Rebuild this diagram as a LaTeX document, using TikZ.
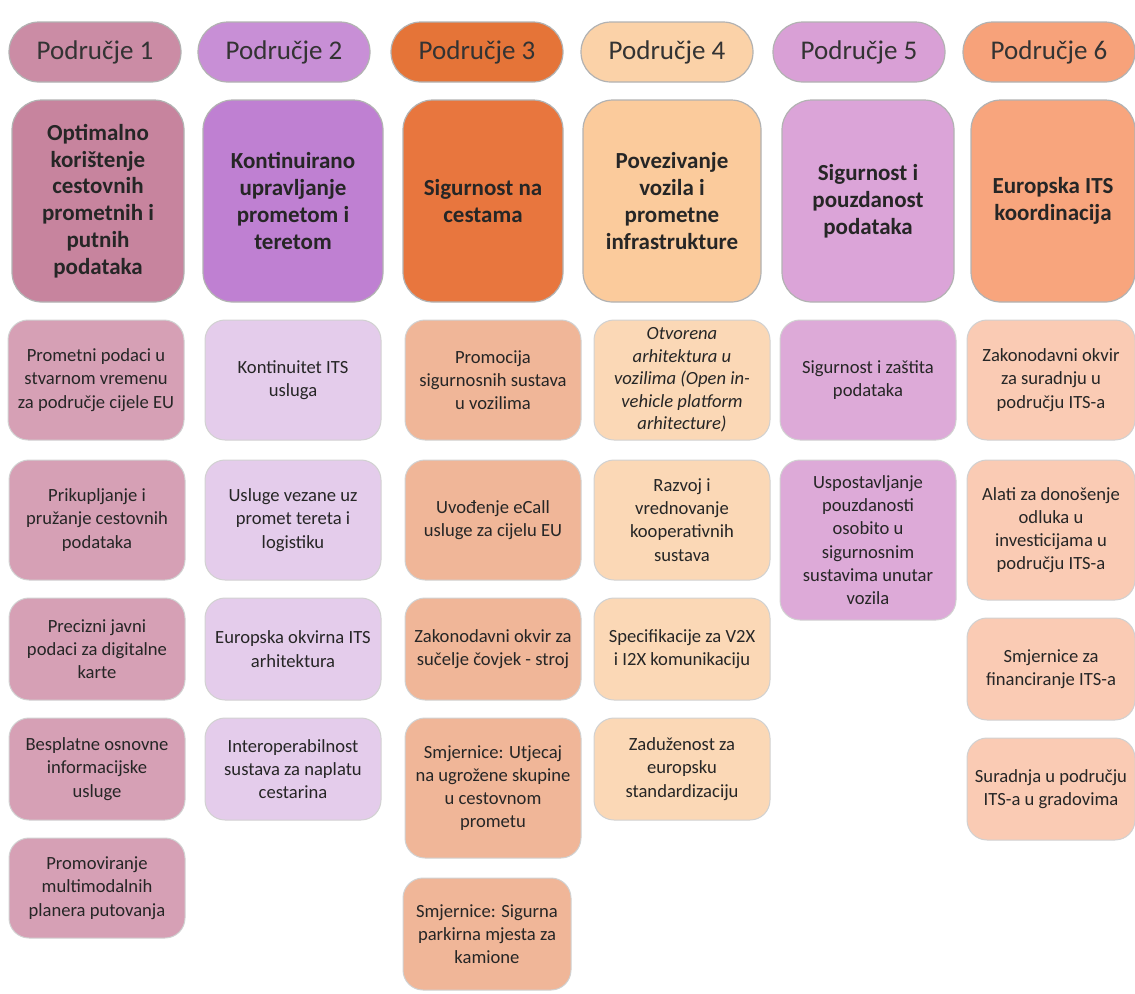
\documentclass[tikz,border=0pt]{standalone}
\usepackage{fontspec}
\setmainfont{Carlito}
\definecolor{roseH}{RGB}{203,140,165}
\definecolor{roseT}{RGB}{199,132,158}
\definecolor{roseI}{RGB}{214,160,181}
\definecolor{lilacH}{RGB}{200,143,214}
\definecolor{lilacT}{RGB}{191,128,210}
\definecolor{lilacI}{RGB}{228,204,235}
\definecolor{orangeH}{RGB}{229,116,56}
\definecolor{orangeT}{RGB}{232,118,62}
\definecolor{orangeI}{RGB}{240,182,152}
\definecolor{peachH}{RGB}{251,210,168}
\definecolor{peachT}{RGB}{251,203,156}
\definecolor{peachI}{RGB}{251,216,182}
\definecolor{mauveH}{RGB}{217,160,214}
\definecolor{mauveT}{RGB}{219,164,216}
\definecolor{mauveI}{RGB}{221,170,216}
\definecolor{salmonH}{RGB}{247,162,122}
\definecolor{salmonT}{RGB}{248,165,125}
\definecolor{salmonI}{RGB}{250,203,180}
\tikzset{
	pill/.style={draw=black!30, line width=0.6pt, rounded corners=15pt, minimum width=86pt, minimum height=30pt, text=black!80, font=\fontsize{13.5}{16}\selectfont},
	title/.style={draw=black!30, line width=0.6pt, rounded corners=15pt, minimum width=88pt, minimum height=101pt, align=center, text=black!85, font=\bfseries\fontsize{11.5}{13.4}\selectfont},
	item/.style={draw=black!18, line width=0.5pt, rounded corners=10pt, minimum width=88pt, minimum height=60pt, inner sep=2pt, align=center, text=black!85, font=\fontsize{9.3}{11.6}\selectfont}
}
\begin{document}
\begin{tikzpicture}[x=0.5pt, y=-0.5pt]
		\useasboundingbox (0,0) rectangle (1135,993);
		\node[pill, fill=roseH] (H1) at (95,52) {Područje 1};
		\node[pill, fill=lilacH] (H2) at (284,52) {Područje 2};
		\node[pill, fill=orangeH] (H3) at (477,52) {Područje 3};
		\node[pill, fill=peachH] (H4) at (667,52) {Područje 4};
		\node[pill, fill=mauveH] (H5) at (859,52) {Područje 5};
		\node[pill, fill=salmonH] (H6) at (1049,52) {Područje 6};
		\node[title, fill=roseT, minimum width=86pt] (T1) at (98,201) {Optimalno\\korištenje\\cestovnih\\prometnih i\\putnih\\podataka};
		\node[title, fill=lilacT, minimum width=90pt] (T2) at (293,201) {Kontinuirano\\upravljanje\\prometom i\\teretom};
		\node[title, fill=orangeT, minimum width=80pt] (T3) at (483,201) {Sigurnost na\\cestama};
		\node[title, fill=peachT, minimum width=89pt] (T4) at (672,201) {Povezivanje\\vozila i\\prometne\\infrastrukture};
		\node[title, fill=mauveT, minimum width=86pt] (T5) at (868,201) {Sigurnost i\\pouzdanost\\podataka};
		\node[title, fill=salmonT, minimum width=82pt] (T6) at (1053,201) {Europska ITS\\koordinacija};
		\node[item, fill=roseI] (A1) at (96,380) {Prometni podaci u\\stvarnom vremenu\\za područje cijele EU};
		\node[item, fill=roseI] (A2) at (97,520) {Prikupljanje i\\pružanje cestovnih\\podataka};
		\node[item, fill=roseI, minimum height=51pt] (A3) at (97,649) {Precizni javni\\podaci za digitalne\\karte};
		\node[item, fill=roseI, minimum height=51pt] (A4) at (97,769) {Besplatne osnovne\\informacijske\\usluge};
		\node[item, fill=roseI, minimum height=50pt] (A5) at (97,888) {Promoviranje\\multimodalnih\\planera putovanja};
		\node[item, fill=lilacI] (B1) at (293,380) {Kontinuitet ITS\\usluga};
		\node[item, fill=lilacI] (B2) at (293,520) {Usluge vezane uz\\promet tereta i\\logistiku};
		\node[item, fill=lilacI, minimum height=51pt] (B3) at (293,649) {Europska okvirna ITS\\arhitektura};
		\node[item, fill=lilacI, minimum height=51pt] (B4) at (293,769) {Interoperabilnost\\sustava za naplatu\\cestarina};
		\node[item, fill=orangeI] (C1) at (493,380) {Promocija\\sigurnosnih sustava\\u vozilima};
		\node[item, fill=orangeI] (C2) at (493,520) {Uvođenje eCall\\usluge za cijelu EU};
		\node[item, fill=orangeI, minimum height=51pt] (C3) at (493,649) {Zakonodavni okvir za\\sučelje čovjek - stroj};
		\node[item, fill=orangeI, minimum height=70pt] (C4) at (493,788) {Smjernice: Utjecaj\\na ugrožene skupine\\u cestovnom\\prometu};
		\node[item, fill=orangeI, minimum height=56pt, minimum width=84pt] (C5) at (487,934) {Smjernice: Sigurna\\parkirna mjesta za\\kamione};
		\node[item, fill=peachI, font=\fontsize{9.3}{11.3}\selectfont\itshape] (D1) at (682,380) {Otvorena\\arhitektura u\\vozilima (Open in-\\vehicle platform\\arhitecture)};
		\node[item, fill=peachI] (D2) at (682,520) {Razvoj i\\vrednovanje\\kooperativnih\\sustava};
		\node[item, fill=peachI, minimum height=51pt] (D3) at (682,649) {Specifikacije za V2X\\i I2X komunikaciju};
		\node[item, fill=peachI, minimum height=51pt] (D4) at (682,769) {Zaduženost za\\europsku\\standardizaciju};
		\node[item, fill=mauveI] (E1) at (868,380) {Sigurnost i zaštita\\podataka};
		\node[item, fill=mauveI, minimum height=80pt] (E2) at (868,540) {Uspostavljanje\\pouzdanosti\\osobito u\\sigurnosnim\\sustavima unutar\\vozila};
		\node[item, fill=salmonI, minimum width=84pt] (F1) at (1051,380) {Zakonodavni okvir\\za suradnju u\\području ITS-a};
		\node[item, fill=salmonI, minimum width=84pt, minimum height=70pt] (F2) at (1051,530) {Alati za donošenje\\odluka u\\investicijama u\\području ITS-a};
		\node[item, fill=salmonI, minimum width=84pt, minimum height=51pt] (F3) at (1051,669) {Smjernice za\\financiranje ITS-a};
		\node[item, fill=salmonI, minimum width=84pt, minimum height=51pt] (F4) at (1051,789) {Suradnja u području\\ITS-a u gradovima};
		\end{tikzpicture}
\end{document}
